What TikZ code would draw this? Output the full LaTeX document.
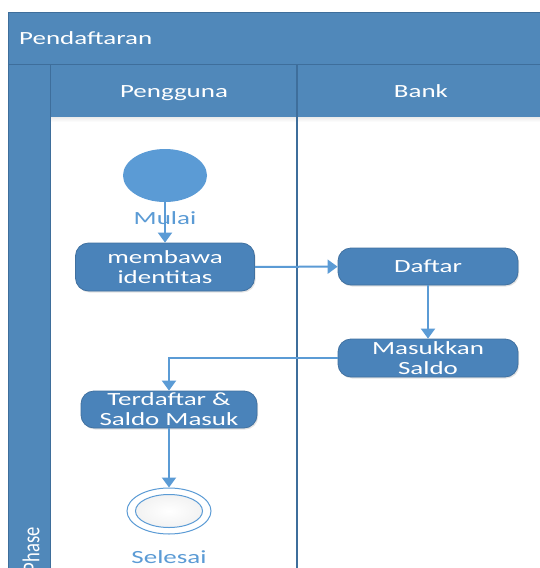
\documentclass[tikz,border=0pt]{standalone}
\usepackage{fontspec}
\setmainfont{Carlito}[FakeStretch=1.45]
\newfontfamily\phasefont{Carlito}
\usetikzlibrary{arrows.meta,shapes.geometric,shadows}

\definecolor{band}{RGB}{80,136,186}
\definecolor{bandline}{RGB}{62,110,155}
\definecolor{boxfill}{RGB}{74,131,186}
\definecolor{boxline}{RGB}{65,113,160}
\definecolor{flow}{RGB}{91,155,213}

\tikzset{
  lbl/.style={font=\fontsize{18.6}{20}\selectfont, text=white, inner sep=0},
  actbox/.style={draw=boxline, line width=0.8pt, fill=boxfill, rounded corners=13pt,
    text=white, align=center, font=\fontsize{18.6}{20}\selectfont, inner sep=0,
    drop shadow={opacity=0.22, shadow xshift=1.2pt, shadow yshift=-1.5pt}},
  flowline/.style={draw=flow, line width=2pt,
    -{Triangle[length=10pt,width=14pt]}},
  caption/.style={font=\fontsize{18.6}{20}\selectfont, text=flow, inner sep=0},
  lane/.style={fill=band, draw=bandline, line width=1pt},
}

\begin{document}
\begin{tikzpicture}[x=1pt,y=-1pt]
\useasboundingbox (0,0) rectangle (540,568);
\clip (0,0) rectangle (540,568);

% swimlane frame
\fill[white] (0,0) rectangle (540,568);
\path[lane] (8,12) rectangle (560,64);
\path[lane] (8,64) rectangle (50,600);
\path[lane] (50,64) rectangle (560,117);
\fill[white] (50.5,117.5) rectangle (560,600);
\shade[top color=black!7, bottom color=white] (50.5,117.5) rectangle (560,122);
\draw[bandline, line width=1pt] (50,64) -- (50,600);
\draw[bandline, line width=1.4pt] (297,64) -- (297,600);

\node[lbl, anchor=base west] (title) at (19,44) {Pendaftaran};
\node[lbl, anchor=base] (lanea) at (174,97) {Pengguna};
\node[lbl, anchor=base] (laneb) at (421,97) {Bank};
\node[lbl, rotate=90, anchor=east, font=\phasefont\fontsize{18.6}{20}\selectfont] (phase) at (31,527) {\scalebox{1}[1.3]{Phase}};

% activities
\node[ellipse, fill=flow, minimum width=84, minimum height=53, inner sep=0] (start) at (165,175.5) {};
\node[caption] (mulai) at (165,218) {Mulai};

\node[actbox, minimum width=179, minimum height=48] (bawa) at (165,267) {membawa\\identitas};
\node[actbox, minimum width=180, minimum height=37] (daftar) at (428,266.5) {Daftar};
\node[actbox, minimum width=180, minimum height=38] (saldo) at (428,358) {Masukkan\\Saldo};
\node[actbox, minimum width=176, minimum height=37] (terdaftar) at (169,409.5) {Terdaftar \&\\Saldo Masuk};

\node[ellipse, draw=flow, line width=1pt, fill=white, minimum width=84, minimum height=46, inner sep=0] (fin) at (169,511) {};
\node[ellipse, draw=flow, line width=1pt, inner color=white, outer color=black!5,
  minimum width=67, minimum height=33, inner sep=0] (fininner) at (fin.center) {};
\node[caption] (selesai) at (169,557) {Selesai};

% control flow
\draw[flowline] (start) -- (bawa);
\draw[flowline] (bawa) -- (daftar);
\draw[flowline] (daftar) -- (saldo);
\draw[flowline] (saldo.west) -| (terdaftar.north);
\draw[flowline] (terdaftar) -- (fin);
\end{tikzpicture}
\end{document}
